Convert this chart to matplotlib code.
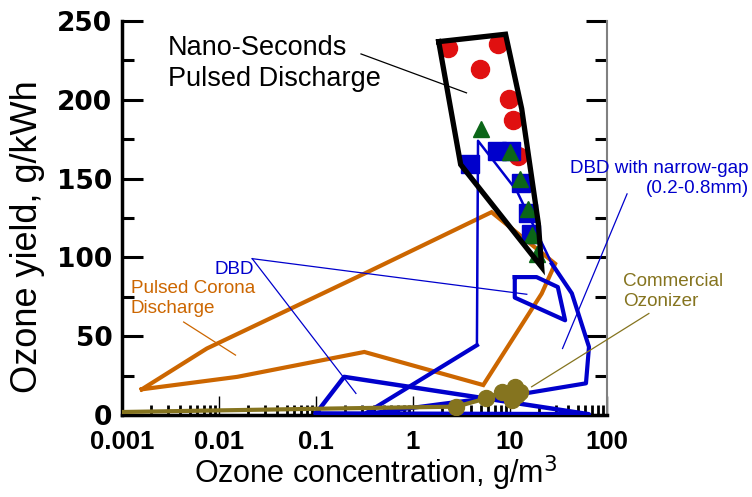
import matplotlib
matplotlib.use("Agg")
import matplotlib.pyplot as plt
from matplotlib.ticker import FixedLocator, FixedFormatter, LogLocator, NullFormatter

# ---------------- data ----------------
ns_poly_x = [1.84, 9.0, 13.2, 19.6, 21.2, 3.1, 1.84]
ns_poly_y = [236.9, 241.6, 194.3, 121.5, 93.9, 158.9, 236.9]

ns_circle_x = [2.30, 7.44, 4.88, 9.75, 10.8, 12.2]
ns_circle_y = [233.1, 235.6, 219.4, 200.4, 187.3, 164.6]

narrow_sq_x = [3.85, 7.38, 10.2, 12.9, 15.5, 16.4]
narrow_sq_y = [159.3, 167.2, 167.2, 147.0, 128.3, 115.0]

narrow_tri_x = [5.08, 9.98, 12.6, 15.5, 16.7, 18.8]
narrow_tri_y = [181.5, 166.7, 149.8, 130.8, 113.9, 102.3]

corona_x = [0.0016, 0.0075, 0.315, 6.45, 29.2, 21.2, 5.3, 0.315, 0.0154, 0.0016]
corona_y = [16.3, 42.2, 89.7, 128.7, 96.0, 77.0, 19.0, 40.0, 24.2, 16.3]

narrow_thin_x = [4.56, 4.68, 11.7, 27.0]
narrow_thin_y = [44.3, 174.0, 142.4, 96.0]
narrow_thick_x = [27.0, 43.4, 65.2, 60.7, 14.3, 1.96, 0.315, 4.56]
narrow_thick_y = [96.0, 77.2, 43.2, 20.1, 13.7, 7.0, 0.5, 44.3]

dbd_x = [0.1, 0.195, 65.0, 0.1]
dbd_y = [1.0, 24.2, 0.5, 1.0]

dbd_small_x = [11.2, 18.8, 31.1, 37.0, 11.2, 11.2]
dbd_small_y = [87.5, 87.5, 81.2, 60.1, 74.5, 87.5]

comm_line_x = [0.001, 0.142, 2.80, 5.72, 8.18, 11.2, 12.7, 10.4]
comm_line_y = [1.9, 4.1, 5.3, 10.6, 14.7, 17.9, 14.7, 9.5]
comm_pts_x = [2.80, 5.72, 8.18, 11.2, 12.7, 10.4, 11.8]
comm_pts_y = [5.3, 10.6, 14.7, 17.9, 14.7, 9.5, 12.5]

x_ticks = [0.001, 0.01, 0.1, 1, 10, 100]
x_tick_labels = ["0.001", "0.01", "0.1", "1", "10", "100"]
y_ticks = [0, 50, 100, 150, 200, 250]
y_tick_labels = ["0", "50", "100", "150", "200", "250"]

# leader lines (data coords)
lead_nano = ([0.291, 3.56], [229.1, 204.4])
lead_corona = ([0.00432, 0.0148], [59.0, 38.0])
lead_dbd1 = ([0.0220, 14.9], [99.2, 76.6])
lead_dbd2 = ([0.0220, 0.258], [99.2, 13.7])
lead_narrow = ([161.0, 34.8], [140.3, 42.2])
lead_comm = ([270.0, 16.7], [64.4, 17.9])

# ---------------- style ----------------
BLACK = "#000000"
RED = "#e01010"
BLUE = "#0000cc"
GREEN = "#0b6618"
ORANGE = "#cc6600"
OLIVE = "#85741f"

plt.rcParams["font.family"] = ["Liberation Sans", "DejaVu Sans"]

W, H = 752, 497
fig = plt.figure(figsize=(W / 100, H / 100), dpi=100)
ax = fig.add_axes([122 / W, 1 - 415 / H, (607 - 122) / W, (415 - 21) / H])
ax.set_xscale("log")
ax.set_xlim(0.001, 100)
ax.set_ylim(0, 250)

# regions
ax.plot(corona_x, corona_y, color=ORANGE, lw=3.0, solid_joinstyle="miter", zorder=2)
ax.plot(dbd_x, dbd_y, color=BLUE, lw=3.2, zorder=3)
ax.plot(dbd_small_x, dbd_small_y, color=BLUE, lw=3.0, zorder=3)
ax.plot(narrow_thin_x, narrow_thin_y, color=BLUE, lw=1.8, zorder=3)
ax.plot(narrow_thick_x, narrow_thick_y, color=BLUE, lw=3.0, zorder=3)
ax.plot(comm_line_x, comm_line_y, color=OLIVE, lw=3.0, zorder=4)
ax.plot(comm_pts_x, comm_pts_y, "o", color=OLIVE, ms=11.5, zorder=4, linestyle="none")

ax.plot(ns_circle_x, ns_circle_y, "o", color=RED, ms=13, zorder=5, linestyle="none")
ax.plot(narrow_sq_x, narrow_sq_y, "s", color=BLUE, ms=12.5, zorder=6, linestyle="none")
ax.plot(narrow_tri_x, narrow_tri_y, "^", color=GREEN, ms=12, zorder=7, linestyle="none")
ax.plot(ns_poly_x, ns_poly_y, color=BLACK, lw=3.8, solid_joinstyle="miter", zorder=8)

# leader lines
for (lx, ly), c in [(lead_nano, BLACK), (lead_corona, ORANGE), (lead_dbd1, BLUE),
                    (lead_dbd2, BLUE), (lead_narrow, BLUE), (lead_comm, OLIVE)]:
    ax.plot(lx, ly, color=c, lw=0.9, clip_on=False, zorder=9)

# spines
ax.spines["top"].set_visible(False)
ax.spines["left"].set_linewidth(2.5)
ax.spines["bottom"].set_linewidth(2.5)
ax.spines["right"].set_color("#808080")
ax.spines["right"].set_linewidth(1.5)

# ticks
ax.xaxis.set_major_locator(FixedLocator(x_ticks))
ax.xaxis.set_major_formatter(FixedFormatter(x_tick_labels))
ax.xaxis.set_minor_locator(LogLocator(base=10, subs=range(2, 10)))
ax.xaxis.set_minor_formatter(NullFormatter())
ax.tick_params(axis="x", which="major", direction="in", length=14, width=1.0, pad=11,
               top=False)
ax.tick_params(axis="x", which="minor", direction="in", length=7, width=2.0, top=False)

ax.yaxis.set_major_locator(FixedLocator(y_ticks))
ax.yaxis.set_major_formatter(FixedFormatter(y_tick_labels))
ax.yaxis.set_minor_locator(FixedLocator([25, 75, 125, 175, 225]))
ax.tick_params(axis="y", which="major", direction="in", length=15, width=2.2, pad=7,
               left=True, right=True)
ax.tick_params(axis="y", which="minor", direction="in", length=8.5, width=2.2,
               left=True, right=True)
for lab in ax.get_xticklabels():
    lab.set_fontweight("bold")
    lab.set_fontsize(18.5)
for lab in ax.get_yticklabels():
    lab.set_fontweight("bold")
    lab.set_family(["DejaVu Sans"])
    lab.set_fontsize(19)

# axis labels
fig.text(376 / W, 1 - 473 / H, "Ozone concentration, g/m$^3$", ha="center", va="center",
         fontsize=22)
fig.text(28 / W, 1 - 237 / H, "Ozone yield, g/kWh", ha="center", va="center",
         rotation=90, fontsize=26)

# annotations
fig.text(168 / W, 1 - 63.5 / H, "Nano-Seconds\nPulsed Discharge", ha="left", va="center",
         fontsize=19.5, color=BLACK, linespacing=1.25)
fig.text(131 / W, 1 - 298.5 / H, "Pulsed Corona\nDischarge", ha="left", va="center",
         fontsize=13.6, color=ORANGE, linespacing=1.22)
fig.text(215 / W, 1 - 270 / H, "DBD", ha="left", va="center", fontsize=13.6, color=BLUE)
fig.text(749 / W, 1 - 178.5 / H, "DBD with narrow-gap\n(0.2-0.8mm)", ha="right",
         va="center", fontsize=13.6, color=BLUE, linespacing=1.2, multialignment="right")
fig.text(623 / W, 1 - 291.5 / H, "Commercial\nOzonizer", ha="left", va="center",
         fontsize=13.6, color=OLIVE, linespacing=1.2)

fig.savefig("out.png", dpi=100)
